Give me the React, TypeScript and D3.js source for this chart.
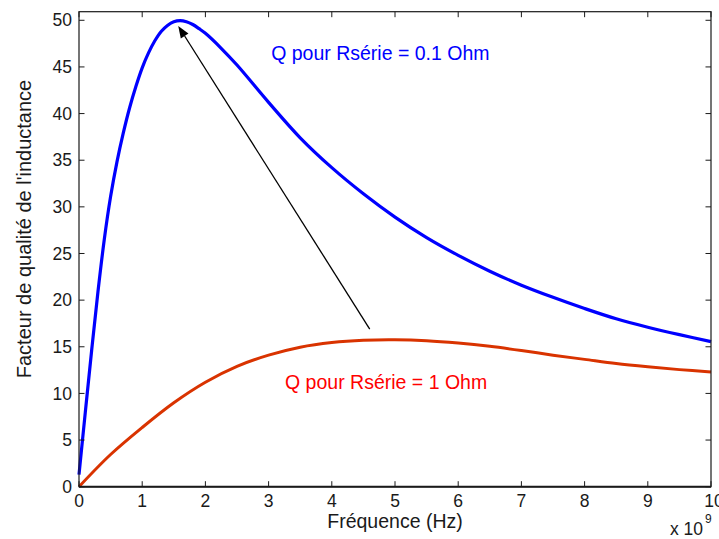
import React from "react";
import * as d3 from "d3";

// Frequency in units of 1e9 Hz
const blueFreq = [0, 0.1, 0.2, 0.3, 0.4, 0.5, 0.6, 0.7, 0.8, 0.9, 1.0, 1.1, 1.2, 1.3, 1.4, 1.5, 1.6, 1.7, 1.8, 1.9, 2.0, 2.25, 2.5, 3.0, 3.5, 4.0, 4.5, 5.0, 5.5, 6.0, 6.5, 7.0, 7.5, 8.0, 8.5, 9.0, 9.5, 10];
const blueQ = [1.3, 8.0, 14.6, 20.9, 26.5, 31.1, 34.8, 37.9, 40.6, 42.9, 44.9, 46.5, 47.8, 48.8, 49.45, 49.85, 49.97, 49.85, 49.55, 49.1, 48.6, 47.0, 45.2, 41.2, 37.4, 34.2, 31.4, 28.9, 26.7, 24.8, 23.1, 21.6, 20.3, 19.1, 18.0, 17.1, 16.3, 15.55];
const redFreq = [0, 0.5, 1.0, 1.5, 2.0, 2.5, 3.0, 3.5, 4.0, 4.5, 5.0, 5.5, 6.0, 6.5, 7.0, 7.5, 8.0, 8.5, 9.0, 9.5, 10];
const redQ = [0, 3.45, 6.35, 9.0, 11.2, 12.9, 14.1, 14.95, 15.45, 15.7, 15.75, 15.65, 15.4, 15.05, 14.6, 14.1, 13.65, 13.2, 12.85, 12.55, 12.3];
const xTicks = [0, 1, 2, 3, 4, 5, 6, 7, 8, 9, 10];
const yTicks = [0, 5, 10, 15, 20, 25, 30, 35, 40, 45, 50];
const arrowFrom = [4.6, 16.9];
const arrowTo = [1.57, 49.4];
const blueLabel = "Q pour Rsérie = 0.1 Ohm";
const blueLabelPos = [3.04, 45.7];
const redLabel = "Q pour Rsérie = 1 Ohm";
const redLabelPos = [3.26, 10.5];

const W = 719, H = 539;
const L = 79, R = 711, T = 11.7, B = 486.7;
const FONT = "'Liberation Sans', Arial, Helvetica, sans-serif";

export default function App() {
  const x = d3.scaleLinear().domain([0, 10]).range([L, R]);
  const y = d3.scaleLinear().domain([0, 50.92]).range([B, T]);
  const line = d3.line<[number, number]>().x(d => x(d[0])).y(d => y(d[1])).curve(d3.curveCatmullRom.alpha(0.5));
  const blue = blueFreq.map((f, i) => [f, blueQ[i]] as [number, number]);
  const red = redFreq.map((f, i) => [f, redQ[i]] as [number, number]);

  const x1 = x(arrowFrom[0]), y1 = y(arrowFrom[1]);
  const x2 = x(arrowTo[0]), y2 = y(arrowTo[1]);
  const ang = Math.atan2(y2 - y1, x2 - x1);
  const hl = 12, hw = 4.5;
  const bx = x2 - hl * Math.cos(ang), by = y2 - hl * Math.sin(ang);
  const head = [
    [x2, y2],
    [bx + hw * Math.sin(ang), by - hw * Math.cos(ang)],
    [bx - hw * Math.sin(ang), by + hw * Math.cos(ang)],
  ];

  const tickLen = 5.5;
  return (
    <svg width={W} height={H} style={{ position: "absolute", left: 0, top: 0, background: "#fff" }} fontFamily={FONT}>
      <rect x={0} y={0} width={W} height={H} fill="#fff" />
      <path d={line(red) || ""} fill="none" stroke="#d93300" strokeWidth={3} />
      <path d={line(blue) || ""} fill="none" stroke="#0000ff" strokeWidth={3.2} />
      <line x1={x1} y1={y1} x2={bx} y2={by} stroke="#000" strokeWidth={1.3} />
      <polygon points={head.map(p => p.join(",")).join(" ")} fill="#000" />
      <text x={x(blueLabelPos[0])} y={y(blueLabelPos[1])} fill="#0000ff" fontSize={19.5}>{blueLabel}</text>
      <text x={x(redLabelPos[0])} y={y(redLabelPos[1])} fill="#ff0000" fontSize={19.5}>{redLabel}</text>
      <rect x={L} y={T} width={R - L} height={B - T} fill="none" stroke="#1a1a1a" strokeWidth={1.2} />
      <line x1={L} y1={B} x2={R} y2={B} stroke="#1a1a1a" strokeWidth={2} />
      {xTicks.map(t => (
        <g key={"x" + t}>
          <line x1={x(t)} x2={x(t)} y1={B} y2={B - tickLen} stroke="#1a1a1a" strokeWidth={1} />
          <line x1={x(t)} x2={x(t)} y1={T} y2={T + tickLen} stroke="#1a1a1a" strokeWidth={1} />
          <text x={x(t) + (t === 10 ? 3 : 0)} y={507} textAnchor="middle" fontSize={17.5} fill="#1a1a1a">{t}</text>
        </g>
      ))}
      {yTicks.map(t => (
        <g key={"y" + t}>
          <line x1={L} x2={L + tickLen} y1={y(t)} y2={y(t)} stroke="#1a1a1a" strokeWidth={1} />
          <line x1={R} x2={R - tickLen} y1={y(t)} y2={y(t)} stroke="#1a1a1a" strokeWidth={1} />
          <text x={72} y={y(t) + 6.2} textAnchor="end" fontSize={17.5} fill="#1a1a1a">{t}</text>
        </g>
      ))}
      <text x={(L + R) / 2} y={528} textAnchor="middle" fontSize={19.5} fill="#1a1a1a">Fréquence (Hz)</text>
      <text transform={`translate(31,229) rotate(-90)`} textAnchor="middle" fontSize={20} fill="#1a1a1a">Facteur de qualité de l'inductance</text>
      <text x={670} y={535} fontSize={17.5} fill="#1a1a1a">x 10</text>
      <text x={705} y={523} fontSize={12} fill="#1a1a1a">9</text>
    </svg>
  );
}
